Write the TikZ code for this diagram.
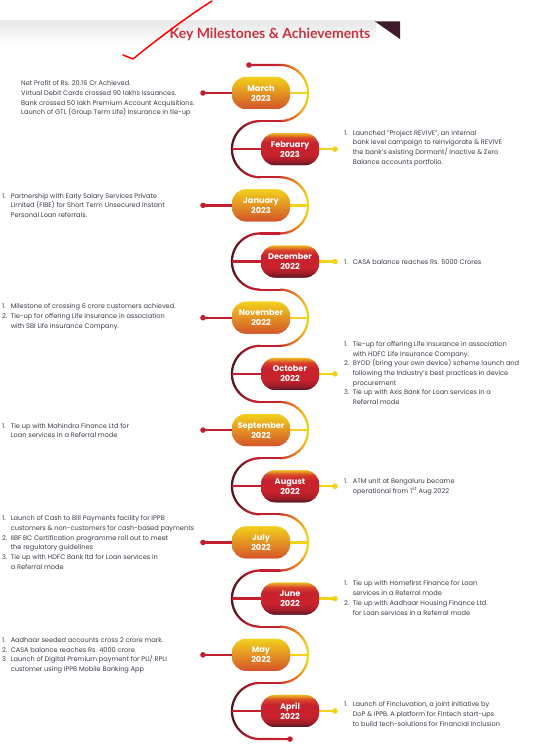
\documentclass[tikz,border=0pt]{standalone}
\usepackage{fontspec}
\setmainfont{Poppins}
\newfontfamily\titlefont{Lato}
\usetikzlibrary{calc}
\definecolor{cMaroon}{HTML}{5A1420}
\definecolor{cRed}{HTML}{C41F2E}
\definecolor{cOrange}{HTML}{E8721E}
\definecolor{cYellow}{HTML}{F2D31B}
\definecolor{txt}{HTML}{433A49}
\definecolor{titlered}{HTML}{C8323E}
\definecolor{pyTop}{HTML}{F2D01C}
\definecolor{pyBot}{HTML}{D4532A}
\definecolor{prTop}{HTML}{EDB522}
\definecolor{prUp}{HTML}{D8452A}
\definecolor{prMid}{HTML}{C8222C}
\definecolor{prLow}{HTML}{A81E2A}
\definecolor{prBot}{HTML}{5A1822}
\definecolor{triang}{HTML}{3F1B2B}
\pgfdeclareverticalshading{pillred}{100bp}{color(0bp)=(prBot); color(25bp)=(prBot); color(33bp)=(prLow); color(42bp)=(prMid); color(60bp)=(prMid); color(68bp)=(prUp); color(75bp)=(prTop); color(100bp)=(prTop)}
\newcommand{\itm}[1]{\makebox[8.6pt][l]{#1}}
\newcommand{\snakecol}[1]{%
  \pgfmathsetmacro\snkx{#1}%
  \ifdim\snkx pt<252pt
    \pgfmathsetmacro\snkp{max(0,min(100,(\snkx-234)/18*100))}%
    \colorlet{scol}{cRed!\snkp!cMaroon}%
  \else\ifdim\snkx pt<274pt
    \colorlet{scol}{cRed}%
  \else\ifdim\snkx pt<294pt
    \pgfmathsetmacro\snkp{(\snkx-274)/20*100}%
    \colorlet{scol}{cOrange!\snkp!cRed}%
  \else
    \pgfmathsetmacro\snkp{min(100,(\snkx-294)/14*100)}%
    \colorlet{scol}{cYellow!\snkp!cOrange}%
  \fi\fi\fi}
\begin{document}
\begin{tikzpicture}[x=1pt,y=-1pt,
  snakeline/.style={line width=2.2pt, line cap=round},
  pillbase/.style={rounded corners=14pt, minimum width=58pt, minimum height=32pt,
    text=white, font=\bfseries\fontsize{8.2}{10}\selectfont, align=center, inner sep=0pt},
  pillL/.style={pillbase, top color=pyTop, bottom color=pyBot},
  pillR/.style={pillbase, shading=pillred},
  blocktext/.style={anchor=west, align=left, inner sep=0pt, text=txt,
    font=\fontsize{6.6}{9.7}\selectfont},
  dotR/.style={circle, fill=cRed, inner sep=0pt, minimum size=5.6pt},
  dotY/.style={circle, fill=cYellow, inner sep=0pt, minimum size=5.6pt},
  hline/.style={line width=2.3pt}
]
\useasboundingbox (0,0) rectangle (542,746);
\fill[white] (0,0) rectangle (542,746);
% title band
\shade[top color=black!9, bottom color=white] (0,21) rectangle (376,44);
\fill[triang] (375,21.5) -- (400,21.5) -- (400,39) -- cycle;
\node[text=titlered, font=\titlefont\bfseries\fontsize{14}{16}\selectfont, inner sep=0pt] (title) at (270,34) {Key Milestones \& Achievements};

% snake
\coordinate (sstart) at (249,65);
\coordinate (send) at (290,739.1);
\draw[snakeline, cRed] (sstart) -- (280,64.91);
\foreach \i in {0,...,11}{
  \pgfmathsetmacro\yc{93+56.18*\i}
  \ifodd\i
    \foreach \k in {0,...,35}{
      \pgfmathsetmacro\ta{270-5*\k}
      \pgfmathsetmacro\tb{\ta-5}
      \snakecol{260+28.09*cos(\ta-2.5)}
      \draw[snakeline, draw=scol] ({260+28.09*cos(\ta)},{\yc+28.09*sin(\ta)}) -- ({260+28.09*cos(\tb)},{\yc+28.09*sin(\tb)});
    }
    \ifnum\i<11
      \draw[snakeline, cRed] (260,\yc+28.09) -- (280,\yc+28.09);
    \fi
  \else
    \foreach \k in {0,...,35}{
      \pgfmathsetmacro\ta{-90+5*\k}
      \pgfmathsetmacro\tb{\ta+5}
      \snakecol{280+28.09*cos(\ta+2.5)}
      \draw[snakeline, draw=scol] ({280+28.09*cos(\ta)},{\yc+28.09*sin(\ta)}) -- ({280+28.09*cos(\tb)},{\yc+28.09*sin(\tb)});
    }
    \draw[snakeline, cRed] (280,\yc+28.09) -- (260,\yc+28.09);
  \fi
}
\draw[snakeline, cRed] (260,739.07) -- (send);
\node[dotR] (dstart) at (sstart) {};
\node[dotR] (dend) at (send) {};

% pills, branch lines and dots
\foreach \m/\yr [count=\n from 0] in {March/2023,February/2023,January/2023,December/2022,November/2022,October/2022,September/2022,August/2022,July/2022,June/2022,May/2022,April/2022}{
  \pgfmathsetmacro\yc{93+56.18*\n}
  \ifodd\n
    \coordinate (s\n) at (232,\yc);
    \node[pillR] (p\n) at (290,\yc) {\m\\\yr};
    \node[dotY] (d\n) at (335,\yc) {};
    \draw[hline, cRed] (s\n) -- (p\n.west);
    \draw[hline, cYellow] (p\n.east) -- (d\n.center);
    \node[pillR] at (p\n) {\m\\\yr};
  \else
    \coordinate (s\n) at (308,\yc);
    \node[pillL] (p\n) at (261,\yc) {\m\\\yr};
    \node[dotR] (d\n) at (203,\yc) {};
    \draw[hline, cRed] (d\n.center) -- (p\n.west);
    \draw[hline, cYellow] (p\n.east) -- (s\n);
    \node[pillL] at (p\n) {\m\\\yr};
  \fi
}

% texts
\node[blocktext] (t0) at (21,98.5) {Net Profit of Rs. 20.16 Cr Achieved.\\Virtual Debit Cards crossed 90 lakhs issuances.\\Bank crossed 50 lakh Premium Account Acquisitions.\\Launch of GTL (Group Term Life) Insurance in tie-up};
\node[blocktext] (t1) at (344,148) {\itm{1.}Launched "Project REVIVE", an internal\\\itm{}bank level campaign to reinvigorate \& REVIVE\\\itm{}the bank's existing Dormant/ Inactive \& Zero\\\itm{}Balance accounts portfolio.};
\node[blocktext] (t2) at (2,205.5) {\itm{1.}Partnership with Early Salary Services Private\\\itm{}Limited (FIBE) for Short Term Unsecured Instant\\\itm{}Personal Loan referrals.};
\node[blocktext] (t3) at (344,262) {\itm{1.}CASA balance reaches Rs. 5000 Crores};
\node[blocktext] (t4) at (2,317) {\itm{1.}Milestone of crossing 6 crore customers achieved.\\\itm{2.}Tie-up for offering Life Insurance in association\\\itm{}with SBI Life Insurance Company.};
\node[blocktext] (t5) at (344,373) {\itm{1.}Tie-up for offering Life Insurance in association\\\itm{}with HDFC Life Insurance Company.\\\itm{2.}BYOD (bring your own device) scheme launch and\\\itm{}following the Industry's best practices in device\\\itm{}procurement\\\itm{3.}Tie up with Axis Bank for Loan services in a\\\itm{}Referral mode};
\node[blocktext] (t6) at (2,430.5) {\itm{1.}Tie up with Mahindra Finance Ltd for\\\itm{}Loan services in a Referral mode};
\node[blocktext] (t7) at (344,487) {\itm{1.}ATM unit at Bengaluru became\\\itm{}operational from 1\textsuperscript{st} Aug 2022};
\node[blocktext] (t8) at (2,542.5) {\itm{1.}Launch of Cash to Bill Payments facility for IPPB\\\itm{}customers \& non-customers for cash-based payments\\\itm{2.}IIBF BC Certification programme roll out to meet\\\itm{}the regulatory guidelines\\\itm{3.}Tie up with HDFC Bank ltd for Loan services in\\\itm{}a Referral mode};
\node[blocktext] (t9) at (344,598) {\itm{1.}Tie up with Homefirst Finance for Loan\\\itm{}services in a Referral mode\\\itm{2.}Tie up with Aadhaar Housing Finance Ltd.\\\itm{}for Loan services in a Referral mode};
\node[blocktext] (t10) at (2,655.5) {\itm{1.}Aadhaar seeded accounts cross 2 crore mark.\\\itm{2.}CASA balance reaches Rs. 4000 crore\\\itm{3}Launch of Digital Premium payment for PLI/ RPLI\\\itm{}customer using IPPB Mobile Banking App};
\node[blocktext] (t11) at (344,714) {\itm{1.}Launch of Fincluvation, a joint initiative by\\\itm{}DoP \& IPPB. A platform for Fintech start-ups\\\itm{}to build tech-solutions for Financial Inclusion};

% hand-drawn check mark
\coordinate (ck1) at (212,1);
\coordinate (ck2) at (133,59);
\coordinate (ck3) at (123,55);
\draw[red, line width=1.5pt, line cap=round, line join=round] (ck1) .. controls (185,18) and (150,45) .. (ck2) -- (ck3);
\end{tikzpicture}
\end{document}
